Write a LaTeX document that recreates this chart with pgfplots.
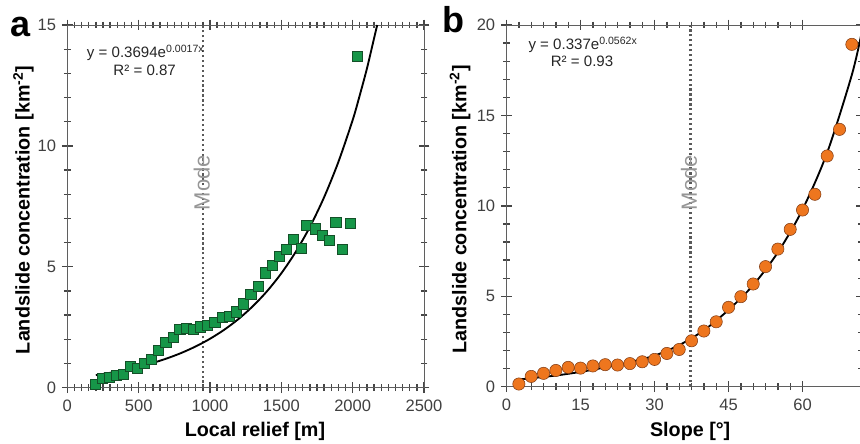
\documentclass[border=0pt]{standalone}
\usepackage{fontspec}
\setmainfont{Liberation Sans}
\usepackage{pgfplots}
\pgfplotsset{compat=1.18}
\definecolor{grn}{RGB}{22,150,72}
\definecolor{grnE}{RGB}{20,80,40}
\definecolor{org}{RGB}{238,118,30}
\definecolor{orgE}{RGB}{130,60,20}
\definecolor{axgray}{RGB}{95,95,95}
\definecolor{tickgray}{RGB}{70,70,70}
\definecolor{modegray}{RGB}{150,150,150}
\pgfplotsset{
  myax/.style={
    scale only axis, anchor=south west,
    axis line style={axgray, line width=0.7pt},
    tick align=center,
    major tick length=8pt, minor tick length=5pt,
    major tick style={tickgray, line width=1pt},
    minor tick style={tickgray, line width=1pt},
    tick label style={font=\fontsize{12.4}{14}\selectfont, text=black!75},
    /pgf/number format/assume math mode=true,
    /pgf/number format/1000 sep={},
    label style={font=\fontsize{14.8}{17}\bfseries\selectfont},
    ylabel={Landslide concentration [km\textsuperscript{-2}]},
    xticklabel style={anchor=north, yshift=-2pt},
    yticklabel style={anchor=east, xshift=-1pt},
  }
}
\begin{document}
\begin{tikzpicture}
% ---------- panel a ----------
\begin{axis}[myax,
  at={(50.5pt,41.5pt)}, width=267.5pt, height=272pt,
  xmin=0, xmax=2500, ymin=0, ymax=15,
  xtick={0,500,...,2500}, minor x tick num=9,
  ytick={0,5,10,15}, minor y tick num=4,
  xlabel={Local relief [m]},
  xlabel style={at={(axis description cs:0.526,-0.135)}, anchor=base},
  ylabel style={at={(axis description cs:-0.123,0.49)}, anchor=center},
]
\addplot[draw=black!65, line width=1.7pt, dash pattern=on 1.7pt off 2.0pt] coordinates {(953,0) (953,15)};
\node[rotate=90, text=modegray, font=\fontsize{16.5}{18}\selectfont] at (axis cs:942,8.48) {Mode};
\addplot[black, line width=1.4pt, smooth] coordinates {
(200,0.519) (300,0.615) (400,0.729) (500,0.864) (600,1.024) (700,1.214)
(800,1.439) (900,1.706) (1000,2.022) (1100,2.397) (1200,2.841) (1300,3.367)
(1400,3.991) (1500,4.731) (1600,5.608) (1700,6.647) (1800,7.879) (1900,9.339)
(2000,11.069) (2050,12.10) (2100,13.20) (2150,14.45) (2172,15.0)};
\addplot[only marks, mark=square*, mark size=3.8pt,
  mark options={fill=grn, draw=grnE, line width=0.4pt}] coordinates {
(198,0.15) (245,0.38) (295,0.43) (342,0.50) (391,0.57) (440,0.88)
(491,0.80) (542,1.01) (588,1.17) (640,1.53) (690,1.86) (741,2.08)
(788,2.41) (836,2.45) (885,2.41) (934,2.52) (982,2.59) (1033,2.69)
(1088,2.92) (1135,2.94) (1186,3.14) (1235,3.47) (1286,3.87) (1338,4.18)
(1386,4.75) (1435,5.05) (1484,5.44) (1535,5.72) (1585,6.12) (1638,5.76)
(1678,6.72) (1735,6.57) (1786,6.32) (1833,6.10) (1882,6.85) (1930,5.74)
(1983,6.81) (2033,13.72)};
\node[font=\fontsize{11.3}{13}\selectfont, text=black!85] at (axis cs:549,13.85) {y = 0.3694e\textsuperscript{0.0017x}};
\node[font=\fontsize{11.3}{13}\selectfont, text=black!85] at (axis cs:542,13.13) {R² = 0.87};
\end{axis}
% ---------- panel b ----------
\begin{axis}[myax,
  at={(379.9pt,42.2pt)}, width=266.4pt, height=271.3pt,
  xmin=0, xmax=72, ymin=0, ymax=20,
  xtick={0,15,...,60}, minor x tick num=5,
  ytick={0,5,...,20}, minor y tick num=4,
  xlabel={Slope [°]},
  xlabel style={at={(axis description cs:0.517,-0.138)}, anchor=base},
  ylabel style={at={(axis description cs:-0.131,0.49)}, anchor=center},
]
\addplot[draw=black!65, line width=1.7pt, dash pattern=on 1.7pt off 2.0pt] coordinates {(37.3,0) (37.3,20)};
\node[rotate=90, text=modegray, font=\fontsize{16.5}{18}\selectfont] at (axis cs:37.0,11.28) {Mode};
\addplot[black, line width=1.4pt, smooth] coordinates {
(2.5,0.40) (5,0.47) (10,0.62) (15,0.82) (20,1.07) (25,1.36) (30,1.72)
(35,2.30) (40,3.12) (45,4.25) (50,5.62) (55,7.43) (60,9.80) (65,12.95)
(70,17.25) (72,19.6)};
\addplot[only marks, mark=*, mark size=4.6pt,
  mark options={fill=org, draw=orgE, line width=0.4pt}] coordinates {
(2.5,0.15) (5,0.57) (7.5,0.74) (10,0.90) (12.5,1.07) (15,1.03)
(17.5,1.15) (20,1.22) (22.5,1.20) (25,1.28) (27.5,1.38) (30,1.51)
(32.5,1.84) (35,2.06) (37.5,2.54) (40,3.08) (42.5,3.59) (45,4.39)
(47.5,4.98) (50,5.68) (52.5,6.64) (55,7.61) (57.5,8.70) (60,9.77)
(62.5,10.64) (65,12.76) (67.5,14.23) (70,18.93)};
\node[font=\fontsize{11.3}{13}\selectfont, text=black!85] at (axis cs:15.5,18.9) {y = 0.337e\textsuperscript{0.0562x}};
\node[font=\fontsize{11.3}{13}\selectfont, text=black!85] at (axis cs:15.3,17.97) {R² = 0.93};
\end{axis}
% panel letters
\node[font=\fontsize{27}{30}\bfseries\selectfont, anchor=base west, inner sep=0pt] at (7.5pt,304.5pt) {a};
\node[font=\fontsize{27}{30}\bfseries\selectfont, anchor=base west, inner sep=0pt] at (331.5pt,307.5pt) {b};
\pgfresetboundingbox
\useasboundingbox (0,0) rectangle (645pt,332.25pt);
\end{tikzpicture}
\end{document}
